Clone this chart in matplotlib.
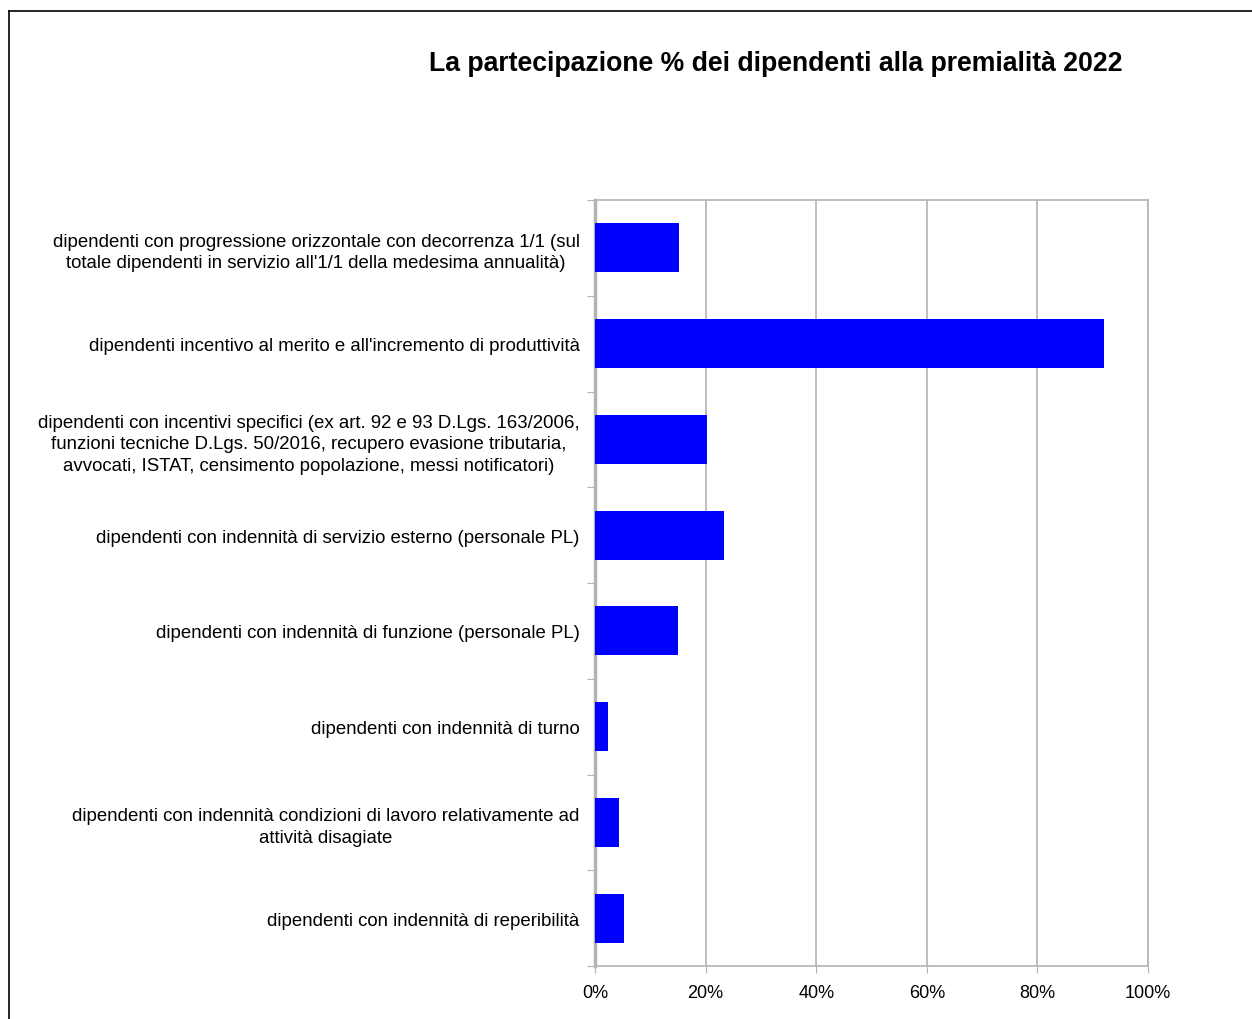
import matplotlib.pyplot as plt
from matplotlib.lines import Line2D
from matplotlib.ticker import PercentFormatter

plt.rcParams['font.family'] = ['Liberation Sans', 'DejaVu Sans']

labels = [
    "dipendenti con progressione orizzontale con decorrenza 1/1 (sul\ntotale dipendenti in servizio all'1/1 della medesima annualità)",
    "dipendenti incentivo al merito e all'incremento di produttività",
    "dipendenti con incentivi specifici (ex art. 92 e 93 D.Lgs. 163/2006,\nfunzioni tecniche D.Lgs. 50/2016, recupero evasione tributaria,\navvocati, ISTAT, censimento popolazione, messi notificatori)",
    "dipendenti con indennità di servizio esterno (personale PL)",
    "dipendenti con indennità di funzione (personale PL)",
    "dipendenti con indennità di turno",
    "dipendenti con indennità condizioni di lavoro relativamente ad\nattività disagiate",
    "dipendenti con indennità di reperibilità",
]
values = [15.2, 92.0, 20.3, 23.3, 15.0, 2.4, 4.3, 5.2]
x_ticks = [0, 20, 40, 60, 80, 100]

fig = plt.figure(figsize=(12.52, 10.2), dpi=100)
ax = fig.add_axes([595 / 1252, 1 - 967 / 1020, 553 / 1252, 766 / 1020])

pos = list(range(len(labels)))
ax.barh(pos, values, height=0.51, color='#0000ff', zorder=3)
ax.set_ylim(len(labels) - 0.5, -0.5)
ax.set_xlim(0, 100)

ax.set_xticks(x_ticks)
ax.xaxis.set_major_formatter(PercentFormatter(decimals=0))
ax.grid(axis='x', color='#b3b3b3', linewidth=1.2, zorder=0)

# category ticks sit between bars, labels on the minor ticks at bar centres
ax.set_yticks([p + 0.5 for p in pos[:-1]] + [-0.5, len(labels) - 0.5])
ax.set_yticklabels([])
ax.set_yticks(pos, minor=True)
ax.set_yticklabels(labels, minor=True, multialignment='center', fontsize=13.4,
                   linespacing=1.35)
ax.tick_params(axis='y', which='minor', length=0, pad=11)
ax.tick_params(axis='y', which='major', length=6, color='#b3b3b3')
ax.tick_params(axis='x', length=5, color='#b3b3b3', labelsize=13, pad=8)

for side in ['top', 'right', 'bottom']:
    ax.spines[side].set_color('#b3b3b3')
    ax.spines[side].set_linewidth(1.2)
ax.spines['left'].set_color('#b3b3b3')
ax.spines['left'].set_linewidth(2.5)

fig.text(776 / 1252, 1 - 64 / 1020, "La partecipazione % dei dipendenti alla premialità 2022",
         ha='center', va='center', fontsize=19.2, fontweight='bold')

# outer frame of the chart area
fig.add_artist(Line2D([9 / 1252, 1], [1 - 12 / 1020] * 2, color='black', linewidth=1.2))
fig.add_artist(Line2D([9 / 1252] * 2, [0, 1 - 12 / 1020], color='black', linewidth=1.2))

fig.savefig('out.png', dpi=100)
